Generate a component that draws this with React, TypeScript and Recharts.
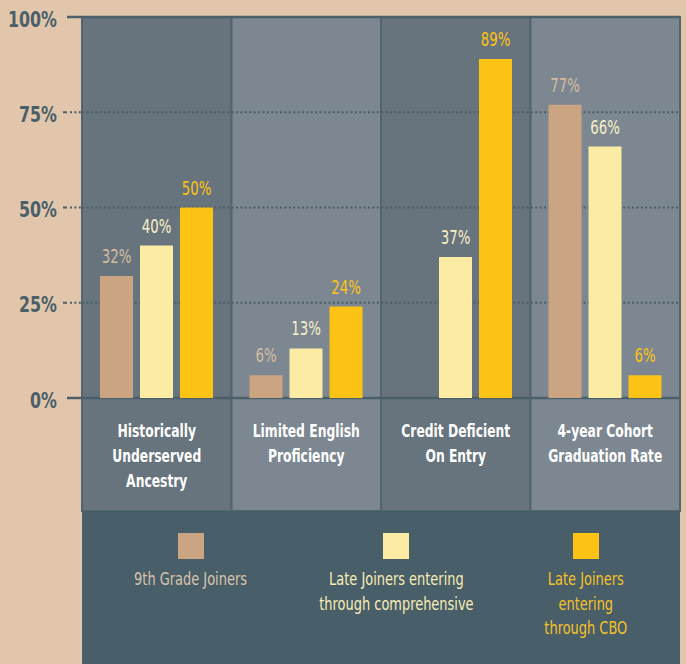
import { BarChart, Bar, XAxis, YAxis, Legend, LabelList, ReferenceArea, ReferenceLine } from "recharts";

const categories = ["Historically Underserved Ancestry", "Limited English Proficiency", "Credit Deficient On Entry", "4-year Cohort Graduation Rate"];
const categoryLines = [["Historically", "Underserved", "Ancestry"], ["Limited English", "Proficiency"], ["Credit Deficient", "On Entry"], ["4-year Cohort", "Graduation Rate"]];

const ninthGrade = [32, 6, null, 77];
const lateComprehensive = [40, 13, 37, 66];
const lateCBO = [50, 24, 89, 6];

const seriesNames = ["9th Grade Joiners", "Late Joiners entering through comprehensive", "Late Joiners entering through CBO"];
const seriesLegendLines = [["9th Grade Joiners"], ["Late Joiners entering", "through comprehensive"], ["Late Joiners", "entering", "through CBO"]];
const yTicks = [0, 25, 50, 75, 100];

// condensed look: DejaVu Sans Condensed squeezed horizontally
const FONT = "'DejaVu Sans Condensed', 'Liberation Sans Narrow', sans-serif";
const SQUEEZE = 0.78;
const SLATE = "#4a5f6a";
const TAN_BG = "#e1c6ab";
const colDark = "#67737d";
const colLight = "#7c8791";
const legendBg = "#485e68";
const barColors = ["#cba582", "#fceba3", "#fdc314"];
const labelColors = ["#d6bc9f", "#f8efc8", "#fdc314"];
const legendTextColors = ["#d9c4ae", "#f8edb5", "#f6c22a"];
const legendItemWidths = [218, 192, 188];

const X_AXIS_HEIGHT = 113;
const TICK_SIZE = 15;
const TICK_MARGIN = 10;

const data = categories.map((c, i) => ({
  category: c,
  ninth: ninthGrade[i],
  comp: lateComprehensive[i],
  cbo: lateCBO[i],
}));
const keys = ["ninth", "comp", "cbo"];

function YTick(props: any) {
  const { x, y, payload } = props;
  const solid = payload.value === 0 || payload.value === 100;
  const x1 = x + TICK_MARGIN - (solid ? 0 : 4);
  const x2 = x + TICK_MARGIN + TICK_SIZE;
  return (
    <g>
      <line x1={x1} x2={x2} y1={y} y2={y} stroke={SLATE} strokeWidth={solid ? 2.5 : 2}
        strokeDasharray={solid ? undefined : "4 3 2 2.4 2 2.4 2 2.4 2 2.4"} />
      <g transform={`translate(${x} ${y}) scale(0.84 1)`}>
        <text x={0} y={0} dy={9.5} textAnchor="end" fill={SLATE} fontFamily={FONT} fontWeight="bold" fontSize={21}>
          {payload.value}%
        </text>
      </g>
    </g>
  );
}

function XTick(props: any) {
  const { x, y, index } = props;
  const lines = categoryLines[index] || [];
  return (
    <g transform={`translate(${x} ${y}) scale(0.74 1)`}>
      <text x={0} y={0} textAnchor="middle" fill="#ffffff" fontFamily={FONT} fontWeight="bold" fontSize={18.5}>
        {lines.map((l, i) => (
          <tspan key={i} x={0} dy={i === 0 ? 31 : 25}>{l}</tspan>
        ))}
      </text>
    </g>
  );
}

function makeValueLabel(color: string) {
  return function ValueLabel(props: any) {
    const { x, y, width, value } = props;
    if (value == null) return null;
    return (
      <g transform={`translate(${x + width / 2} ${y - 13}) scale(${SQUEEZE} 1)`}>
        <text x={0} y={0} textAnchor="middle" fill={color} fontFamily={FONT} fontSize={19}>{value}%</text>
      </g>
    );
  };
}

function ColumnShape(props: any) {
  const { x, y, width, height, fill } = props;
  return <rect x={x} y={y} width={width} height={height + X_AXIS_HEIGHT} fill={fill} stroke="#52656f" strokeWidth={2} />;
}

function LegendContent() {
  return (
    <div style={{ background: legendBg, height: 153, width: 598, display: "flex", fontFamily: FONT }}>
      {seriesNames.map((name, i) => (
        <div key={name} style={{ width: legendItemWidths[i], display: "flex", flexDirection: "column", alignItems: "center", paddingTop: 22 }}>
          <div style={{ width: 26, height: 26, background: barColors[i] }} />
          <div style={{ marginTop: 8, color: legendTextColors[i], fontSize: 18, lineHeight: "24.5px", textAlign: "center", transform: "scaleX(0.8)", whiteSpace: "nowrap" }}>
            {seriesLegendLines[i].map((l) => <div key={l}>{l}</div>)}
          </div>
        </div>
      ))}
    </div>
  );
}

export default function App() {
  return (
    <div style={{ width: 686, height: 664, background: TAN_BG, position: "relative" }}>
      <style>{"body{margin:0}"}</style>
      <BarChart width={686} height={664} data={data} margin={{ top: 17, right: 6, bottom: 0, left: 0 }} barSize={33} barGap={7}>
        {categories.map((c, i) => (
          <ReferenceArea key={c} x1={c} x2={c} fill={i % 2 === 0 ? colDark : colLight} fillOpacity={1}
            shape={ColumnShape} ifOverflow="visible" zIndex={-200} />
        ))}
        {yTicks.map((t) => (
          <ReferenceLine key={t} y={t} stroke={SLATE} zIndex={-150}
            strokeWidth={t === 0 || t === 100 ? 2.5 : 2}
            strokeDasharray={t === 0 || t === 100 ? undefined : "2 2.4"} />
        ))}
        {keys.map((k, i) => (
          <Bar key={k} dataKey={k} name={seriesNames[i]} fill={barColors[i]} isAnimationActive={false}>
            <LabelList dataKey={k} content={makeValueLabel(labelColors[i])} />
          </Bar>
        ))}
        <XAxis dataKey="category" height={X_AXIS_HEIGHT} axisLine={false} tickLine={false} interval={0} tick={XTick} />
        <YAxis width={82} domain={[0, 100]} ticks={yTicks} axisLine={false} tickLine={false}
          tickSize={TICK_SIZE} tickMargin={TICK_MARGIN} tick={YTick} />
        <Legend verticalAlign="bottom" content={LegendContent} wrapperStyle={{ left: 82, width: 598, bottom: 0 }} />
      </BarChart>
    </div>
  );
}
